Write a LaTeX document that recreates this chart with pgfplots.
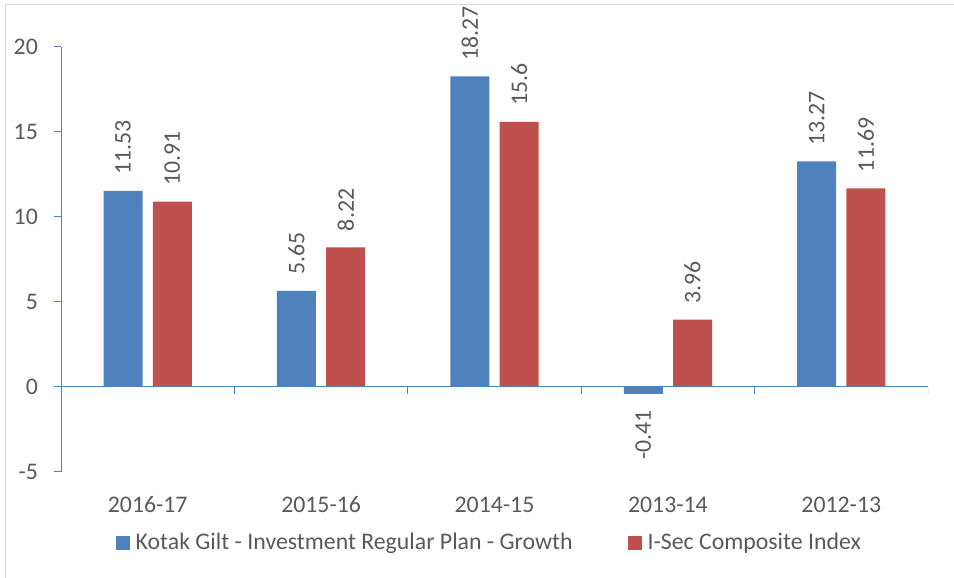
\documentclass[border=0pt]{standalone}
\usepackage{pgfplots}
\pgfplotsset{compat=1.18}
\usepackage{fontspec}
\setmainfont{Carlito}
\definecolor{kblue}{HTML}{4F81BD}
\definecolor{kred}{HTML}{C0504D}
\definecolor{txtgray}{HTML}{595959}
\definecolor{bordergray}{HTML}{D9D9D9}
\newcommand{\chf}{\fontsize{23.8pt}{28pt}\selectfont}
\begin{document}
\chf
\begin{tikzpicture}[x=1pt,y=1pt]
\useasboundingbox (0,0) rectangle (954,578);
\draw[bordergray, line width=1pt] (5,0) -- (5,573) -- (954,573);
\begin{axis}[
  at={(61pt,106pt)}, anchor=south west,
  scale only axis, width=867pt, height=425pt,
  xmin=-0.5, xmax=4.5, ymin=-5, ymax=20,
  ybar, bar width=0.225,
  axis y line*=left, axis x line*=bottom,
  x axis line style={draw=none},
  y axis line style={kblue, line width=1pt},
  ytick={-5,0,5,10,15,20},
  yticklabels={-5,0,5,10,15,20},
  xtick={0,1,2,3,4},
  xticklabels={2016-17,2015-16,2014-15,2013-14,2012-13},
  tick align=outside,
  major tick length=7pt,
  x tick style={draw=none},
  y tick style={kblue, line width=1pt},
  ticklabel style={font=\chf, text=txtgray},
  xticklabel style={anchor=base, yshift=-34pt},
  yticklabel style={anchor=east, xshift=-8pt},
  legend style={at={(0.494,-0.167)}, anchor=center, draw=none, fill=none,
    legend columns=2, font=\chf, text=txtgray,
    /tikz/every even column/.append style={column sep=53pt},
    /tikz/every odd column/.append style={column sep=4pt}},
  legend image code/.code={\fill[#1] (0pt,-7pt) rectangle (14pt,7pt);},
  visualization depends on={rawy \as \rawy},
  nodes near coords,
  point meta=explicit symbolic,
  nodes near coords style={rotate=90, text=txtgray,
    font=\chf, inner xsep=16pt, inner ysep=0pt,
    /utils/exec={\ifdim\rawy pt<0pt \def\myanc{east}\else\def\myanc{west}\fi},
    anchor=\myanc},
]
\addplot[fill=kblue, draw=none, bar shift=-0.142] coordinates {
  (0,11.53) [11.53]
  (1,5.65) [5.65]
  (2,18.27) [18.27]
  (3,-0.41) [-0.41]
  (4,13.27) [13.27]
};
\addlegendentry{Kotak Gilt - Investment Regular Plan - Growth}
\addplot[fill=kred, draw=none, bar shift=0.142] coordinates {
  (0,10.91) [10.91]
  (1,8.22) [8.22]
  (2,15.6) [15.6]
  (3,3.96) [3.96]
  (4,11.69) [11.69]
};
\addlegendentry{I-Sec Composite Index}
\draw[kblue, line width=1pt] (axis cs:-0.5,0) -- (axis cs:4.5,0);
\pgfplotsinvokeforeach{0.5,1.5,2.5,3.5,4.5}{
  \draw[kblue, line width=1pt] (axis cs:#1,0) -- ++(0pt,-7pt);
}
\end{axis}
\end{tikzpicture}
\end{document}
